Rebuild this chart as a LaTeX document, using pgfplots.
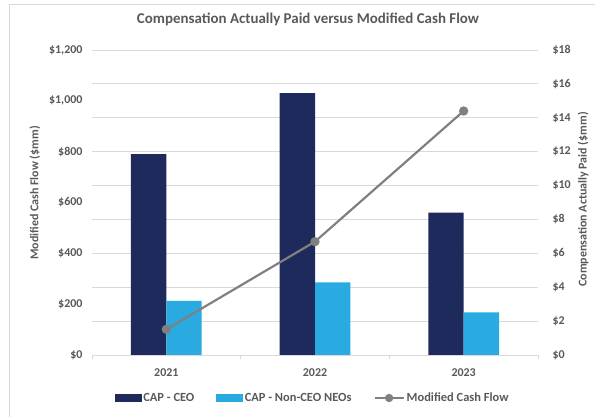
\documentclass[border=0pt]{standalone}
\usepackage{pgfplots}
\pgfplotsset{compat=1.18}
\usepackage{fontspec}
\setmainfont{Carlito}
\definecolor{ceo}{HTML}{1F2A5C}
\definecolor{neo}{HTML}{29ABE2}
\definecolor{mcf}{HTML}{808080}
\definecolor{gridc}{HTML}{D9D9D9}
\definecolor{txt}{HTML}{595959}
\newcommand{\tf}{\bfseries\fontsize{12}{14}\selectfont}
\newcommand{\lf}{\bfseries\fontsize{12.5}{14}\selectfont}
\begin{document}
\begin{tikzpicture}
\path[use as bounding box] (-92bp,-62bp) rectangle (503bp,355bp);
\draw[gridc, line width=0.8bp] (-82.5bp,-62bp) -- (-82.5bp,351bp) -- (503bp,351bp);
\node[font=\bfseries\fontsize{15}{17}\selectfont, text=txt] at (216bp,336bp) {Compensation Actually Paid versus Modified Cash Flow};
\begin{axis}[
  at={(0bp,0bp)}, anchor=south west,
  scale only axis, width=446bp, height=305bp,
  xmin=-0.5, xmax=2.5, ymin=0, ymax=18,
  axis y line*=right, axis x line*=bottom,
  y axis line style={draw=none},
  x axis line style={draw=gridc, line width=0.8bp},
  xtick={0,1,2}, xticklabels={2021,2022,2023},
  ytick={0,2,...,18},
  yticklabels={\$0,\$2,\$4,\$6,\$8,\$10,\$12,\$14,\$16,\$18},
  major tick length=0pt,
  extra x ticks={-0.5,0.5,1.5,2.5},
  extra x tick labels={},
  extra x tick style={major tick length=4bp, tick align=outside, tick style={draw=gridc, line width=0.8bp}},
  ymajorgrids, grid style={draw=gridc, line width=0.8bp},
  tick label style={font=\tf, text=txt},
  yticklabel style={xshift=11bp},
  xticklabel style={yshift=-10bp},
  ylabel={Compensation Actually Paid (\$mm)},
  ylabel style={at={(axis description cs:1.101,0.51)}, anchor=center, font=\tf, text=txt},
]
\addplot[ybar, bar width=0.238, bar shift=-0.119, fill=ceo, draw=none] coordinates {(0,11.86) (1,15.45) (2,8.4)};
\addplot[ybar, bar width=0.238, bar shift=0.119, fill=neo, draw=none] coordinates {(0,3.2) (1,4.29) (2,2.52)};
\end{axis}
\begin{axis}[
  at={(0bp,0bp)}, anchor=south west,
  scale only axis, width=446bp, height=305bp,
  xmin=-0.5, xmax=2.5, ymin=0, ymax=1200,
  axis y line*=left, hide x axis,
  y axis line style={draw=none},
  ytick={0,200,...,1200},
  yticklabels={\$0,\$200,\$400,\$600,\$800,{\$1,000},{\$1,200}},
  major tick length=0pt,
  tick label style={font=\tf, text=txt},
  yticklabel style={xshift=-6bp},
  ylabel={Modified Cash Flow (\$mm)},
  ylabel style={at={(axis description cs:-0.128,0.531)}, anchor=center, font=\tf, text=txt},
  legend style={at={(axis description cs:0.495,-0.141)}, anchor=center, legend columns=3, draw=none, fill=none, font=\lf, text=txt,
    /tikz/every even column/.append style={column sep=20bp}},
]
\addlegendimage{legend image code/.code={\fill[ceo] (0bp,-3.5bp) rectangle (26bp,3.5bp);}}
\addlegendentry{CAP - CEO}
\addlegendimage{legend image code/.code={\fill[neo] (0bp,-3.5bp) rectangle (26bp,3.5bp);}}
\addlegendentry{CAP - Non-CEO NEOs}
\addplot[mcf, line width=2.2bp, mark=*, mark size=3.5bp, mark options={fill=mcf, draw=mcf},
  legend image code/.code={\draw[mcf, line width=2.2bp] (0bp,0bp) -- (29bp,0bp); \fill[mcf] (14.5bp,0bp) circle (3bp);}]
  coordinates {(0,101) (1,446) (2,960)};
\addlegendentry{Modified Cash Flow}
\end{axis}
\end{tikzpicture}
\end{document}
